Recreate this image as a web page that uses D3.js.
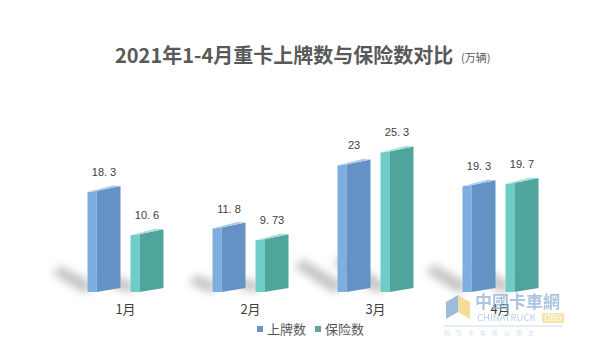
<!DOCTYPE html>
<html><head><meta charset="utf-8">
<script src="https://cdn.jsdelivr.net/npm/d3@7"></script>
<style>
html,body{margin:0;padding:0;background:#fff;}
svg{display:block;font-family:"Noto Sans CJK SC","Noto Sans",sans-serif;}
</style></head>
<body>
<svg id="c" width="600" height="360"></svg>
<script>
const categories = ["1月", "2月", "3月", "4月"];
const seriesNames = ["上牌数", "保险数"];
const registrations = [18.3, 11.8, 23, 19.3];
const insurance = [10.6, 9.73, 25.3, 19.7];
const labelText = ["18. 3", "11. 8", "23", "19. 3", "10. 6", "9. 73", "25. 3", "19. 7"];

const svg = d3.select("#c");
const baseY = 292;

const colors = {
  "上牌数": {side: "#7eaee0", front: "#6492c4", cap: "#a9cbee", legend: "#6a95c2"},
  "保险数": {side: "#6fcdc8", front: "#4fa59c", cap: "#9fe0da", legend: "#5aa89f"}
};

const x0 = d3.scaleBand().domain(categories).range([63, 563]);
const x1 = d3.scaleBand().domain(seriesNames).range([24.5, 100.5]).paddingInner(2 - 76 / 43);
const y = d3.scaleLinear().domain([0, 30]).range([baseY, baseY - 169]);

const data = [];
categories.forEach((c, i) => {
  data.push({cat: c, s: seriesNames[0], v: registrations[i], label: labelText[i]});
  data.push({cat: c, s: seriesNames[1], v: insurance[i], label: labelText[4 + i]});
});

const defs = svg.append("defs");
const f = defs.append("filter").attr("id", "blur").attr("x", "-50%").attr("y", "-50%").attr("width", "200%").attr("height", "200%");
f.append("feGaussianBlur").attr("stdDeviation", 4);

// title
svg.append("text").attr("x", 115).attr("y", 63)
  .attr("font-size", 20).attr("font-weight", "bold").attr("fill", "#595959")
  .text("2021年1-4月重卡上牌数与保险数对比");
svg.append("text").attr("x", 461).attr("y", 62)
  .attr("font-size", 11).attr("fill", "#595959")
  .text("(万辆)");

// shadows
const shadowG = svg.append("g").attr("filter", "url(#blur)");
data.forEach(d => {
  const bx = x0(d.cat) + x1(d.s);
  const h = baseY - y(d.v);
  const L = h * 0.3;
  shadowG.append("polygon")
    .attr("points", [
      [bx + 3, baseY - 1], [bx + 3, baseY - 10], [bx - L + 4, baseY - L * 0.85],
      [bx - L - 4, baseY - L * 0.8 + 6], [bx - 6, baseY]
    ].map(p => p.join(",")).join(" "))
    .attr("fill", "#8a8a8a").attr("opacity", 0.5);
});

// bars
const bw = x1.bandwidth();
const barsG = svg.append("g");
data.forEach(d => {
  const bx = x0(d.cat) + x1(d.s);
  const yt = y(d.v);
  const c = colors[d.s];
  const g = barsG.append("g");
  const sw = 9;
  g.append("polygon")
    .attr("points", [[bx, yt + 3], [bx + sw, yt + 2], [bx + sw, baseY], [bx, baseY]].map(p => p.join(",")).join(" "))
    .attr("fill", c.side);
  g.append("polygon")
    .attr("points", [[bx + sw, yt + 2], [bx + bw, yt - 3], [bx + bw, baseY - 4], [bx + sw, baseY]].map(p => p.join(",")).join(" "))
    .attr("fill", c.front);
  g.append("polygon")
    .attr("points", [[bx, yt + 3], [bx + sw, yt + 2], [bx + bw, yt - 3], [bx + bw - 8, yt - 3.5]].map(p => p.join(",")).join(" "))
    .attr("fill", c.cap);
  svg.append("text")
    .attr("x", bx + bw / 2).attr("y", yt - 13)
    .attr("text-anchor", "middle").attr("font-size", 11)
    .attr("font-family", "'Liberation Sans',Arial,sans-serif")
    .attr("fill", "#404040")
    .text(d.label);
});

// category axis
const ax = svg.append("g").attr("transform", `translate(0,${baseY + 9})`)
  .call(d3.axisBottom(x0).tickSize(0).tickPadding(4));
ax.select(".domain").remove();
ax.selectAll("text").attr("font-size", 13).attr("fill", "#404040")
  .attr("font-family", "'Noto Sans CJK SC',sans-serif");

// legend
const leg = svg.append("g");
const legendItems = [{name: seriesNames[0], x: 257}, {name: seriesNames[1], x: 315}];
legendItems.forEach(it => {
  leg.append("rect").attr("x", it.x).attr("y", 326).attr("width", 6).attr("height", 6)
    .attr("fill", colors[it.name].legend);
  leg.append("text").attr("x", it.x + 10).attr("y", 334).attr("font-size", 13)
    .attr("fill", "#555").text(it.name);
});

// watermark (faint)
const wm = svg.append("g").attr("opacity", 0.75);
wm.append("polygon").attr("points", "446,302 458,295 458,312 446,319").attr("fill", "#7fa6cf");
wm.append("polygon").attr("points", "458,295 470,302 470,319 458,312").attr("fill", "#f2d27a");
wm.append("text").attr("x", 475).attr("y", 308).attr("font-size", 17).attr("fill", "#8fb2d6")
  .attr("font-weight", "bold").text("中國卡車網");
wm.append("text").attr("x", 477).attr("y", 321).attr("font-size", 9.5).attr("fill", "#a6bfd8")
  .text("CHINATRUCK");
wm.append("rect").attr("x", 542).attr("y", 313).attr("width", 22).attr("height", 10).attr("fill", "#f6dc8e");
wm.append("text").attr("x", 553).attr("y", 321).attr("font-size", 8.5).attr("fill", "#ffffff")
  .attr("text-anchor", "middle").text("ORG");
wm.append("line").attr("x1", 444).attr("x2", 563).attr("y1", 326).attr("y2", 326)
  .attr("stroke", "#bcd0e3").attr("stroke-width", 1);
wm.append("text").attr("x", 444).attr("y", 335).attr("font-size", 6).attr("fill", "#c2d3e4")
  .attr("letter-spacing", 6).text("因为卡车所以朋友");
</script>
</body></html>
